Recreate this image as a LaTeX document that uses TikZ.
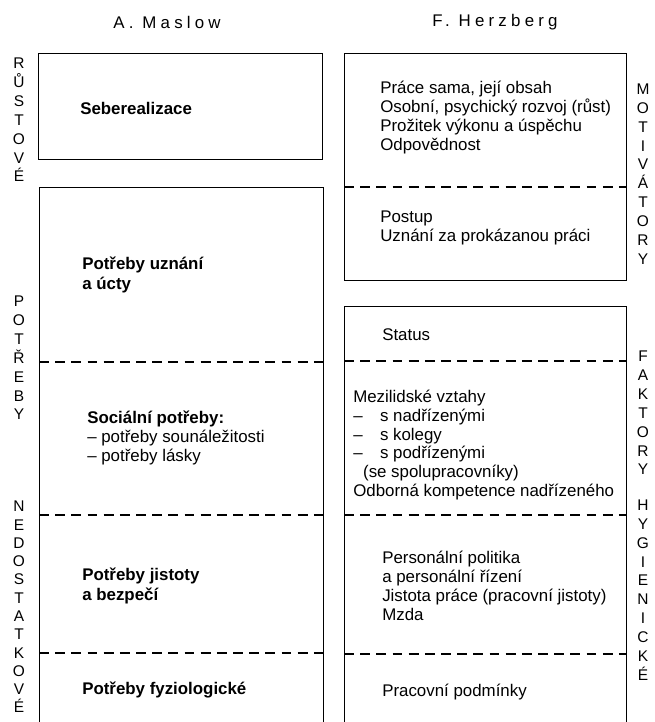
\documentclass[tikz,border=0pt]{standalone}
\usepackage{fontspec}
\setmainfont{Liberation Sans}
\usetikzlibrary{positioning}

\begin{document}
\begin{tikzpicture}[x=0.025cm,y=-0.025cm]
  \tikzstyle{stupen}=[draw,line width=0.7pt]
  \tikzstyle{hranice}=[line width=0.8pt,dash pattern=on 7pt off 4.5pt]
  \tikzstyle{popis}=[anchor=west,align=left,inner sep=0pt,font=\fontsize{12}{13.4}\selectfont]
  \tikzstyle{hlavni}=[popis,font=\fontsize{12}{14}\selectfont\bfseries]
  \tikzstyle{svisle}=[align=center,inner sep=0pt,font=\fontsize{11}{13.4}\selectfont]
  \tikzstyle{autor}=[font=\fontsize{12}{14}\selectfont\addfontfeature{LetterSpace=25}]
  \clip (0,0) rectangle (654,722);
  % Maslow
  \node[autor] (maslow) at (167,22) {A. Maslow};
  \draw[stupen] (38,53) rectangle (322,159);
  \draw[stupen] (39,187) rectangle (323,760);
  \draw[hranice] (39,362) -- (323,362);
  \draw[hranice] (39,515) -- (323,515);
  \draw[hranice] (39,653) -- (323,653);
  \node[hlavni] (seberealizace) at (80,108) {Seberealizace};
  \node[hlavni] (uznani) at (82,275) {Potřeby uznání\\a úcty};
  \node[popis] (socialni) at (87,438) {\textbf{Sociální potřeby:}\\– potřeby sounáležitosti\\– potřeby lásky};
  \node[hlavni] (jistota) at (82,586) {Potřeby jistoty\\a bezpečí};
  \node[hlavni] (fyzio) at (82,690) {Potřeby fyziologické};
  \node[svisle] (rustove) at (19,120) {R\\Ů\\S\\T\\O\\V\\É};
  \node[svisle] (potreby) at (19,358) {P\\O\\T\\Ř\\E\\B\\Y};
  \node[svisle,font=\fontsize{11}{13}\selectfont] (nedostatkove) at (19,607) {N\\E\\D\\O\\S\\T\\A\\T\\K\\O\\V\\É};
  % Herzberg
  \node[autor] (herzberg) at (495,22) {F. Herzberg};
  \draw[stupen] (344,53) rectangle (626,280);
  \draw[hranice] (344,187) -- (626,187);
  \draw[stupen] (344,306) rectangle (626,760);
  \draw[hranice] (344,361) -- (626,361);
  \draw[hranice] (344,515) -- (626,515);
  \draw[hranice] (344,654) -- (626,654);
  \node[popis] (prace) at (380,117.5) {Práce sama, její obsah\\Osobní, psychický rozvoj (růst)\\Prožitek výkonu a úspěchu\\Odpovědnost};
  \node[popis] (postup) at (380,228) {Postup\\Uznání za prokázanou práci};
  \node[popis] (status) at (382,335) {Status};
  \node[popis] (vztahy) at (353,445) {Mezilidské vztahy\\
    \makebox[19pt][l]{–}s nadřízenými\\
    \makebox[19pt][l]{–}s kolegy\\
    \makebox[19pt][l]{–}s podřízenými\\
    \hspace*{7pt}(se spolupracovníky)\\
    Odborná kompetence nadřízeného};
  \node[popis] (politika) at (382,586) {Personální politika\\a personální řízení\\Jistota práce (pracovní jistoty)\\Mzda};
  \node[popis] (podminky) at (382,692) {Pracovní podmínky};
  \node[svisle] (motivatory) at (643,174) {M\\O\\T\\I\\V\\Á\\T\\O\\R\\Y};
  \node[svisle] (faktory) at (643,413) {F\\A\\K\\T\\O\\R\\Y};
  \node[svisle] (hygienicke) at (643,590) {H\\Y\\G\\I\\E\\N\\I\\C\\K\\É};
\end{tikzpicture}
\end{document}
